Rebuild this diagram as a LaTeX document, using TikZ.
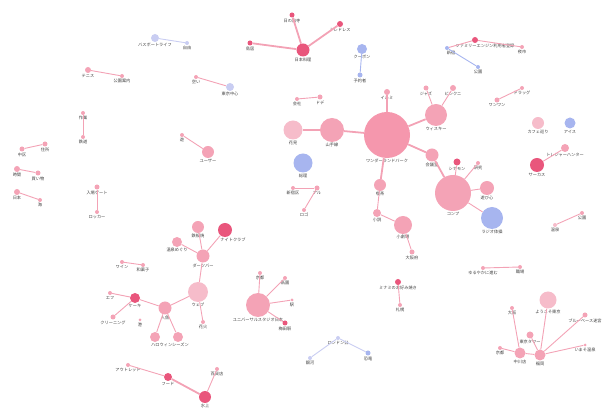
\documentclass[tikz,border=0pt]{standalone}
\usepackage{fontspec}
\newfontfamily\jp{Noto Sans CJK JP}
\definecolor{pk}{HTML}{F4A3B6}
\definecolor{pkA}{HTML}{F597AD}
\definecolor{pkR}{HTML}{E9567C}
\definecolor{pkL}{HTML}{F6BCCA}
\definecolor{bl}{HTML}{A7B5EF}
\definecolor{lav}{HTML}{C9CDF2}
\definecolor{lnk}{HTML}{F3A2B5}
\begin{document}
\begin{tikzpicture}[x=1pt, y=-1pt,
    dot/.style={circle, inner sep=0pt, minimum size=#1, fill=pk},
    dot/.default=4pt,
    hot/.style={fill=pkR}, lite/.style={fill=pkL}, blu/.style={fill=bl}, lavn/.style={fill=lav},
    label distance=0.4pt,
    every label/.style={font=\jp\fontsize{4.2}{5}\selectfont, text=black!75, inner sep=0.5pt},
    lk/.style={draw=lnk, line width=0.9pt},
    lkb/.style={draw=lnk, line width=1.8pt}]
  \useasboundingbox (0,0) rectangle (611,411);
  % top
  \node[dot=13pt, hot] (washoku) at (303,50) [label=below:{日本料理}] {};
  \node[dot=5pt, hot] (hinode) at (292,15) [label=below:{日の出寺}] {};
  \node[dot=5pt, hot] (torii) at (250,43) [label=below:{鳥居}] {};
  \node[dot=6pt, hot] (dress) at (340,24) [label=below:{トレドレス}] {};
  \node[dot=10pt, blu] (coupon) at (362,49) [label=below:{クーポン}] {};
  \node[dot=5pt, blu] (yoyaku) at (360,75) [label=below:{予約者}] {};
  \node[dot=8pt, lavn] (passport) at (155,38) [label=below:{パスポートライフ}] {};
  \node[dot=4pt, lavn] (jiyu) at (187,43) [label=below:{自由}] {};
  \node[dot=4pt] (aki) at (196,77) [label=below:{空い}] {};
  \node[dot=8pt, lavn] (tokyoc) at (230,87) [label=below:{東京中心}] {};
  \node[dot=6pt] (tennis) at (88,70) [label=below:{テニス}] {};
  \node[dot=4pt] (kouen) at (122,76) [label=below:{公園案内}] {};
  \node[dot=6pt, hot] (famil) at (475,40) [label={[xshift=10pt]below:{ファミリーエンジン利用者登録}}] {};
  \node[dot=4pt, blu] (shinjuku) at (447,48) [label={[xshift=4pt]below:{新宿}}] {};
  \node[dot=4pt, blu] (park) at (478,67) [label=below:{公園}] {};
  \node[dot=4pt] (yoichi) at (522,47) [label=below:{夜市}] {};
  \node[dot=5pt] (wan) at (497,100) [label=below:{ワンワン}] {};
  \node[dot=4pt] (drug) at (522,88) [label=below:{ドラッグ}] {};
  \node[dot=12pt, lite] (cafe) at (538,123) [label=below:{カフェ巡り}] {};
  \node[dot=11pt, blu] (ice) at (570,123) [label=below:{アイス}] {};
  \node[dot=14pt, hot] (circus) at (537,165) [label=below:{サーカス}] {};
  \node[dot=8pt] (treasure) at (565,148) [label=below:{トレジャーハンター}] {};
  % main cluster
  \node[dot=46pt, pkA] (wonder) at (387,135) [label=below:{ワンダーランドパーク}] {};
  \node[dot=24pt] (sekai) at (332,130) [label=below:{山手線}] {};
  \node[dot=19pt, lite] (hanami) at (293,130) [label=below:{花見}] {};
  \node[dot=19pt, blu] (sori) at (303,163) [label=below:{総理}] {};
  \node[dot=4pt] (kaisha) at (297,99) [label=below:{会社}] {};
  \node[dot=5pt] (dode) at (320,97) [label=below:{ドデ}] {};
  \node[dot=6pt] (iruka) at (387,92) [label=below:{イルミ}] {};
  \node[dot=5pt] (jazz) at (426,88) [label=below:{ジャズ}] {};
  \node[dot=6pt] (pinkn) at (453,88) [label=below:{ピンクニ}] {};
  \node[dot=22pt] (whisky) at (436,115) [label=below:{ウィスキー}] {};
  \node[dot=13pt] (kaigi) at (432,155) [label=below:{会議室}] {};
  \node[dot=36pt] (univ) at (453,193) [label=below:{コンプ}] {};
  \node[dot=7pt, hot] (shina) at (457,162) [label=below:{シナモン}] {};
  \node[dot=4pt] (kenkyu) at (478,163) [label=below:{研究}] {};
  \node[dot=14pt] (asobi) at (487,188) [label=below:{遊び心}] {};
  \node[dot=22pt, blu] (radio) at (492,218) [label=below:{ラジオ体操}] {};
  \node[dot=12pt] (kissa) at (380,185) [label=below:{喫茶}] {};
  \node[dot=8pt] (shosetsu) at (377,213) [label=below:{小説}] {};
  \node[dot=18pt] (gekijo) at (403,225) [label=below:{小劇場}] {};
  \node[dot=5pt] (osaka) at (412,252) [label=below:{大阪府}] {};
  \node[dot=4pt] (shinjukuku) at (293,188) [label=below:{新宿区}] {};
  \node[dot=5pt] (aru) at (317,188) [label=below:{アル}] {};
  \node[dot=4pt] (rogo) at (304,210) [label=below:{ロゴ}] {};
  % left
  \node[dot=4pt] (yu) at (182,135) [label=below:{遊}] {};
  \node[dot=12pt] (user) at (208,152) [label=below:{ユーザー}] {};
  \node[dot=5pt] (jusho) at (45,144) [label=below:{住所}] {};
  \node[dot=5pt] (naka) at (22,149) [label=below:{中区}] {};
  \node[dot=6pt] (jikan) at (17,169) [label=below:{時間}] {};
  \node[dot=5pt] (kaimono) at (38,173) [label=below:{買い物}] {};
  \node[dot=6pt] (nihon) at (17,192) [label=below:{日本}] {};
  \node[dot=4pt] (umi) at (40,200) [label=below:{海}] {};
  \node[dot=4pt] (sagyo) at (83,113) [label=below:{作業}] {};
  \node[dot=4pt] (tetsudo) at (83,137) [label=below:{鉄道}] {};
  \node[dot=5pt] (gate) at (97,187) [label=below:{入場ゲート}] {};
  \node[dot=4pt] (locker) at (97,212) [label=below:{ロッカー}] {};
  % bottom left
  \node[dot=12pt] (teppan) at (198,227) [label=below:{鉄板焼}] {};
  \node[dot=14pt, hot] (night) at (225,230) [label={[xshift=8pt]below:{ナイトクラブ}}] {};
  \node[dot=10pt] (onsen) at (177,242) [label=below:{温泉めぐり}] {};
  \node[dot=13pt] (darts) at (203,256) [label=below:{ダーツバー}] {};
  \node[dot=4pt] (wine) at (122,262) [label=below:{ワイン}] {};
  \node[dot=4pt] (wagashi) at (143,265) [label=below:{和菓子}] {};
  \node[dot=4pt] (efu) at (110,293) [label=below:{エフ}] {};
  \node[dot=10pt, hot] (cake) at (135,298) [label=below:{ケーキ}] {};
  \node[dot=5pt] (cleaning) at (113,317) [label=below:{クリーニング}] {};
  \node[dot=3pt] (minato) at (140,320) [label=below:{港}] {};
  \node[dot=10pt] (pan) at (155,337) {};
  \node[dot=10pt] (halloween) at (178,337) [label={[xshift=-8pt]below:{ハロウィンシーズン}}] {};
  \node[dot=20pt, lite] (web) at (198,292) [label=below:{ウェブ}] {};
  \node[dot=13pt] (ningyo) at (165,308) [label=below:{人魚}] {};
  \node[dot=4pt] (hanabi) at (203,322) [label=below:{花火}] {};
  \node[dot=4pt] (outlet) at (128,365) [label=below:{アウトレット}] {};
  \node[dot=8pt, hot] (food) at (168,377) [label=below:{フード}] {};
  \node[dot=12pt, hot] (suijo) at (205,397) [label=below:{水上}] {};
  \node[dot=4pt] (hyakka) at (217,369) [label=below:{百貨店}] {};
  \node[dot=24pt] (usj) at (258,305) [label=below:{ユニバーサルスタジオ日本}] {};
  \node[dot=4pt] (kyoto) at (260,273) [label=below:{京都}] {};
  \node[dot=4pt] (gion) at (285,278) [label=below:{祇園}] {};
  \node[dot=3pt] (eki) at (292,300) [label=below:{駅}] {};
  \node[dot=5pt, hot] (umeda) at (285,323) [label=below:{梅田駅}] {};
  % bottom centre
  \node[dot=6pt, hot] (okonomi) at (398,282) [label=below:{ミナミのお好み焼き}] {};
  \node[dot=4pt] (sapporo) at (400,305) [label=below:{札幌}] {};
  \node[dot=4pt, lavn] (london) at (338,338) [label=below:{ロンドン公}] {};
  \node[dot=4pt, lavn] (ginga) at (310,358) [label=below:{銀河}] {};
  \node[dot=5pt, blu] (kyoryu) at (368,353) [label=below:{恐竜}] {};
  % bottom right
  \node[dot=4pt] (yuru) at (483,268) [label=below:{ゆるやかに進む}] {};
  \node[dot=4pt] (shokuba) at (520,267) [label=below:{職場}] {};
  \node[dot=4pt, lite] (onsen2) at (555,225) [label=below:{温泉}] {};
  \node[dot=4pt] (park2) at (582,213) [label=below:{公園}] {};
  \node[dot=17pt, lite] (youkoso) at (548,300) [label=below:{ようこそ東京}] {};
  \node[dot=4pt] (osaka2) at (512,308) [label=below:{大阪}] {};
  \node[dot=5pt] (blue) at (585,315) [label=below:{ブルーベース迷宮}] {};
  \node[dot=7pt] (tower) at (530,335) [label=below:{東京タワー}] {};
  \node[dot=4pt] (kyoto2) at (500,348) [label=below:{京都}] {};
  \node[dot=11pt] (nakagawa) at (520,353) [label=below:{中川店}] {};
  \node[dot=11pt] (fukuoka) at (540,355) [label=below:{福岡}] {};
  \node[dot=3pt] (imaso) at (585,345) [label=below:{いまそ温泉}] {};
  % links
  \draw[lkb] (washoku) -- (hinode);
  \draw[lkb] (washoku) -- (torii);
  \draw[lkb] (washoku) -- (dress);
  \draw[lk, draw=bl] (coupon) -- (yoyaku);
  \draw[lk, draw=lav] (passport) -- (jiyu);
  \draw[lk] (aki) -- (tokyoc);
  \draw[lk] (tennis) -- (kouen);
  \draw[lk] (famil) -- (yoichi);
  \draw[lk] (famil) -- (shinjuku);
  \draw[lk, draw=bl] (shinjuku) -- (park);
  \draw[lk] (wan) -- (drug);
  \draw[lk] (circus) -- (treasure);
  \draw[lkb] (wonder) -- (sekai);
  \draw[lkb] (sekai) -- (hanami);
  \draw[lk] (kaisha) -- (dode);
  \draw[lkb] (wonder) -- (iruka);
  \draw[lkb] (wonder) -- (whisky);
  \draw[lk] (whisky) -- (jazz);
  \draw[lk] (whisky) -- (pinkn);
  \draw[lkb] (wonder) -- (kaigi);
  \draw[lkb] (kaigi) -- (univ);
  \draw[lk] (univ) -- (shina);
  \draw[lk] (univ) -- (kenkyu);
  \draw[lk] (univ) -- (asobi);
  \draw[lk] (univ) -- (radio);
  \draw[lkb] (wonder) -- (kissa);
  \draw[lk] (kissa) -- (shosetsu);
  \draw[lk] (shosetsu) -- (gekijo);
  \draw[lk] (gekijo) -- (osaka);
  \draw[lk] (shinjukuku) -- (aru);
  \draw[lk] (aru) -- (rogo);
  \draw[lk] (yu) -- (user);
  \draw[lk] (naka) -- (jusho);
  \draw[lk] (jikan) -- (kaimono);
  \draw[lk] (nihon) -- (umi);
  \draw[lk] (sagyo) -- (tetsudo);
  \draw[lk] (gate) -- (locker);
  \draw[lk] (teppan) -- (darts);
  \draw[lk] (night) -- (darts);
  \draw[lk] (onsen) -- (darts);
  \draw[lk] (darts) -- (web);
  \draw[lk] (wine) -- (wagashi);
  \draw[lk] (efu) -- (cake);
  \draw[lk] (cake) -- (cleaning);
  \draw[lk] (cake) -- (ningyo);
  \draw[lk] (ningyo) -- (web);
  \draw[lk] (web) -- (hanabi);
  \draw[lk] (ningyo) -- (pan);
  \draw[lk] (ningyo) -- (halloween);
  \draw[lk] (outlet) -- (food);
  \draw[lkb] (food) -- (suijo);
  \draw[lk] (suijo) -- (hyakka);
  \draw[lk] (usj) -- (kyoto);
  \draw[lk] (usj) -- (gion);
  \draw[lk] (usj) -- (eki);
  \draw[lk] (usj) -- (umeda);
  \draw[lk] (okonomi) -- (sapporo);
  \draw[lk, draw=lav] (london) -- (ginga);
  \draw[lk, draw=lav] (london) -- (kyoryu);
  \draw[lk] (yuru) -- (shokuba);
  \draw[lk] (onsen2) -- (park2);
  \draw[lk] (fukuoka) -- (youkoso);
  \draw[lk] (fukuoka) -- (blue);
  \draw[lk] (fukuoka) -- (imaso);
  \draw[lk] (fukuoka) -- (tower);
  \draw[lk] (fukuoka) -- (nakagawa);
  \draw[lk] (nakagawa) -- (kyoto2);
  \draw[lk] (nakagawa) -- (osaka2);
\end{tikzpicture}
\end{document}
